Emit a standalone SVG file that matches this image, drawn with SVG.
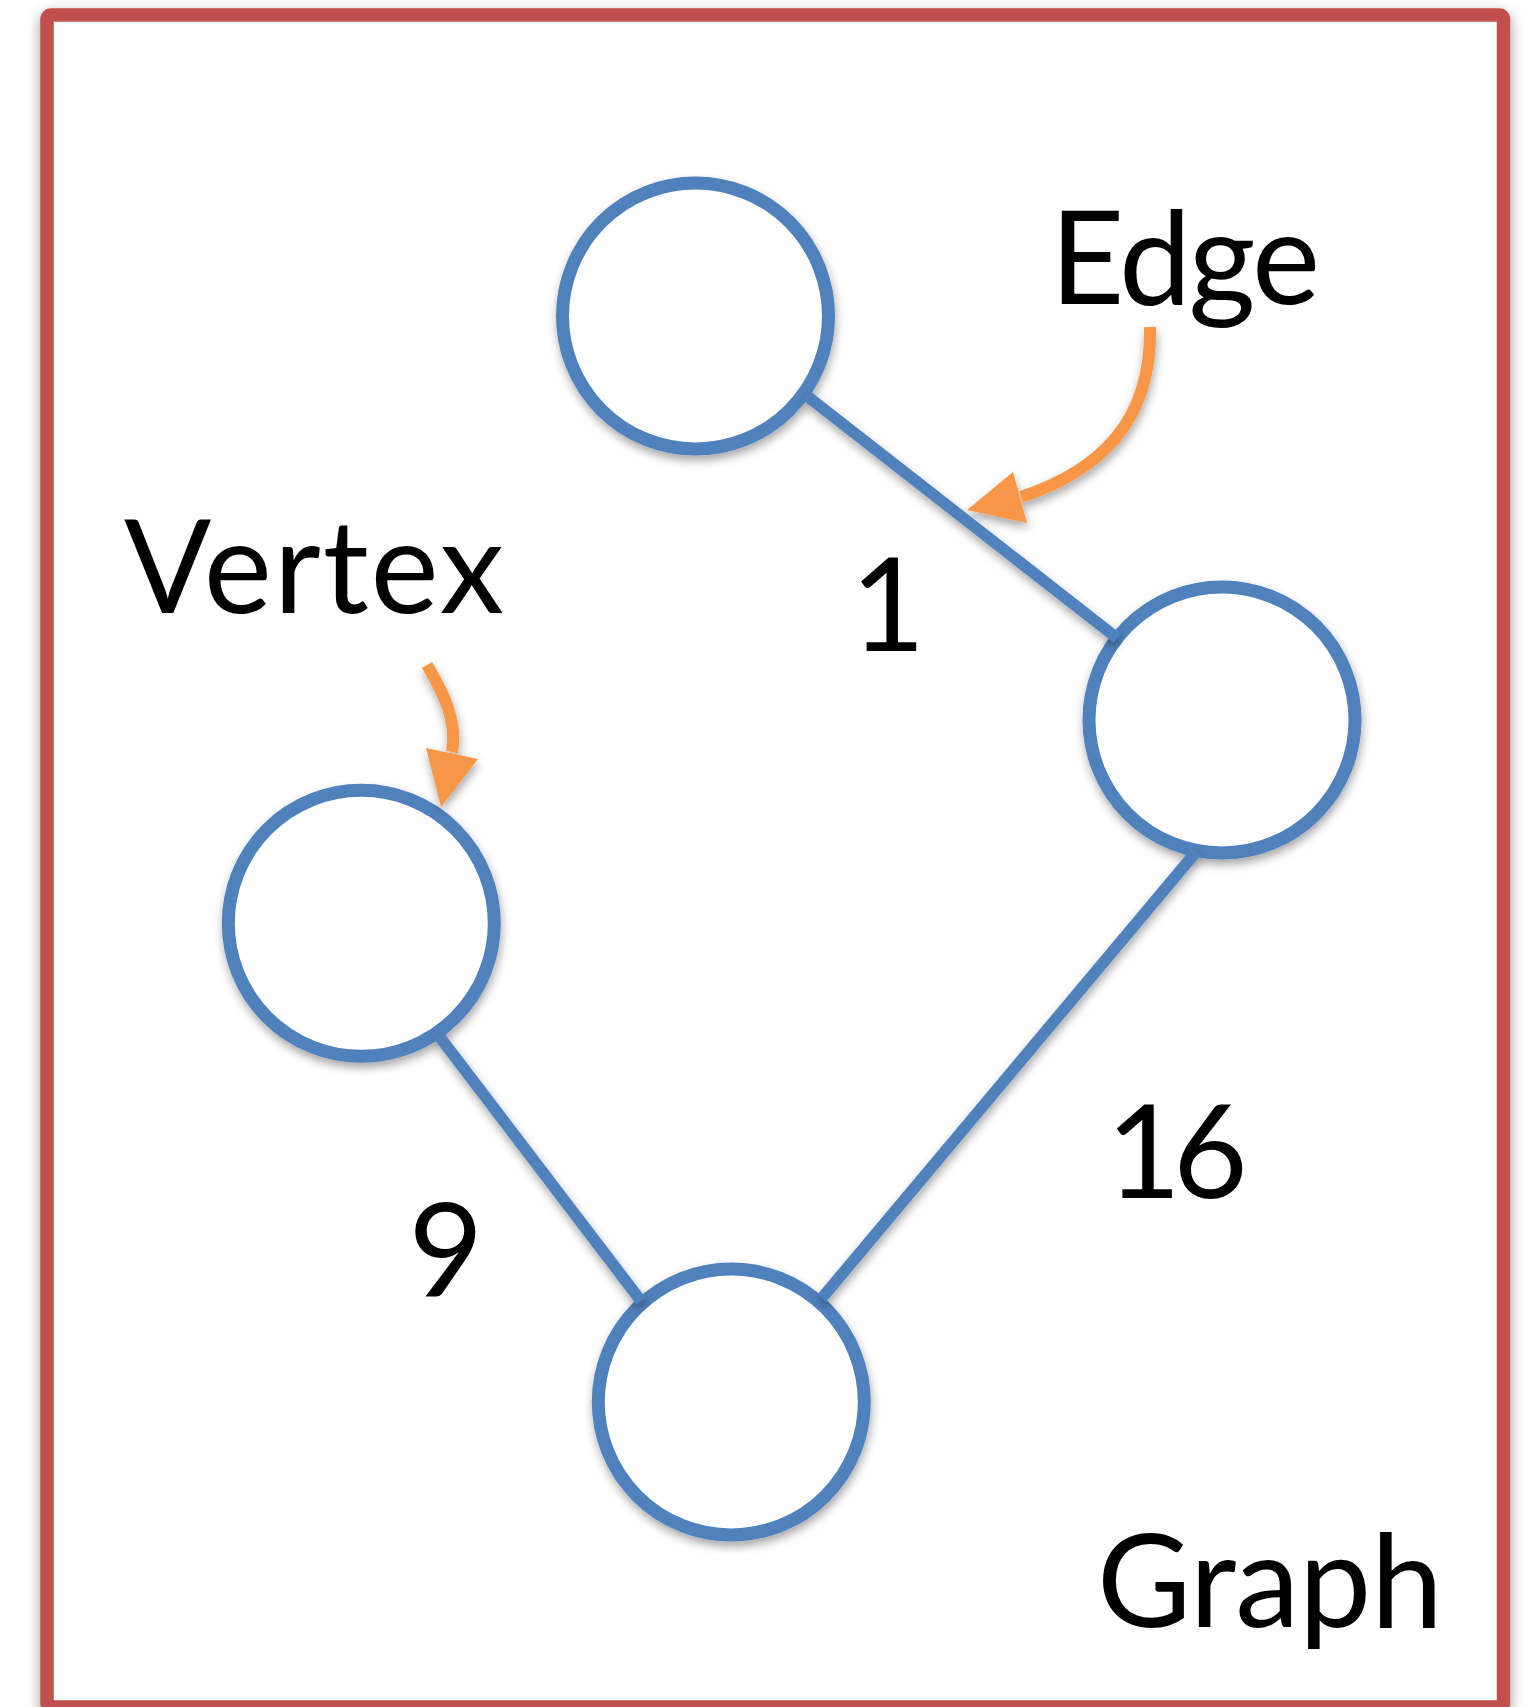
<svg xmlns="http://www.w3.org/2000/svg" width="1532" height="1707" viewBox="0 0 1532 1707">
  <style>
    .frame { fill: #ffffff; stroke: #C0504D; stroke-width: 13.5; }
    .vertex { fill: #ffffff; stroke: #4F81BD; stroke-width: 13; }
    .edge { fill: none; stroke: #4F81BD; stroke-width: 11.5; stroke-linecap: butt; }
    .callout { fill: none; stroke: #F79646; stroke-width: 12; stroke-linecap: butt; }
    .callout-head { fill: #F79646; stroke: none; }
    .label { font-family: Lato, "Open Sans", "Liberation Sans", sans-serif; font-size: 129px; fill: #000000; }
  </style>
  <defs>
    <filter id="soft-shadow" x="-20%" y="-20%" width="140%" height="140%">
      <feDropShadow dx="1" dy="5" stdDeviation="5" flood-color="#000000" flood-opacity="0.35"/>
    </filter>
    <filter id="frame-shadow" x="-5%" y="-5%" width="110%" height="110%">
      <feDropShadow dx="0" dy="5" stdDeviation="7" flood-color="#000000" flood-opacity="0.4"/>
    </filter>
  </defs>

  <rect width="1532" height="1707" fill="#ffffff"/>

  <!-- outer frame -->
  <g id="frame">
    <rect class="frame" x="47" y="15" width="1456.5" height="1692" rx="4" filter="url(#frame-shadow)"/>
  </g>

  <!-- vertices -->
  <g id="node-top">
    <circle class="vertex" cx="695.5" cy="316" r="133" filter="url(#soft-shadow)"/>
  </g>
  <g id="node-right">
    <circle class="vertex" cx="1222" cy="720" r="133" filter="url(#soft-shadow)"/>
  </g>
  <g id="node-left">
    <circle class="vertex" cx="361.3" cy="923.3" r="133" filter="url(#soft-shadow)"/>
  </g>
  <g id="node-bottom">
    <circle class="vertex" cx="731.3" cy="1402" r="133" filter="url(#soft-shadow)"/>
  </g>

  <!-- weighted edges and callout arrows -->
  <g id="connectors" filter="url(#soft-shadow)">
    <line id="edge-top-right" class="edge" x1="807" y1="396" x2="1117" y2="638"/>
    <line id="edge-right-bottom" class="edge" x1="1196" y1="852" x2="822" y2="1298"/>
    <line id="edge-left-bottom" class="edge" x1="439" y1="1036" x2="641" y2="1301"/>

    <g id="callout-edge">
      <path class="callout" d="M1150,327 C1152,420 1102,470 1021,497"/>
      <polygon class="callout-head" points="967,510 1013,472 1027,523"/>
    </g>
    <g id="callout-vertex">
      <path class="callout" d="M427,665 C443,692 458,722 452,752"/>
      <polygon class="callout-head" points="441,807 426,748 478,759"/>
    </g>
  </g>

  <!-- text labels -->
  <g id="labels">
    <text class="label" x="1050" y="304" textLength="270">Edge</text>
    <text class="label" x="124" y="613" textLength="380">Vertex</text>
    <text class="label" x="1097" y="1627" textLength="346">Graph</text>
    <text class="label" x="888" y="651" text-anchor="middle">1</text>
    <text class="label" x="1173" y="1198" text-anchor="middle" letter-spacing="-8">16</text>
    <text class="label" x="446" y="1296" text-anchor="middle">9</text>
  </g>
</svg>
